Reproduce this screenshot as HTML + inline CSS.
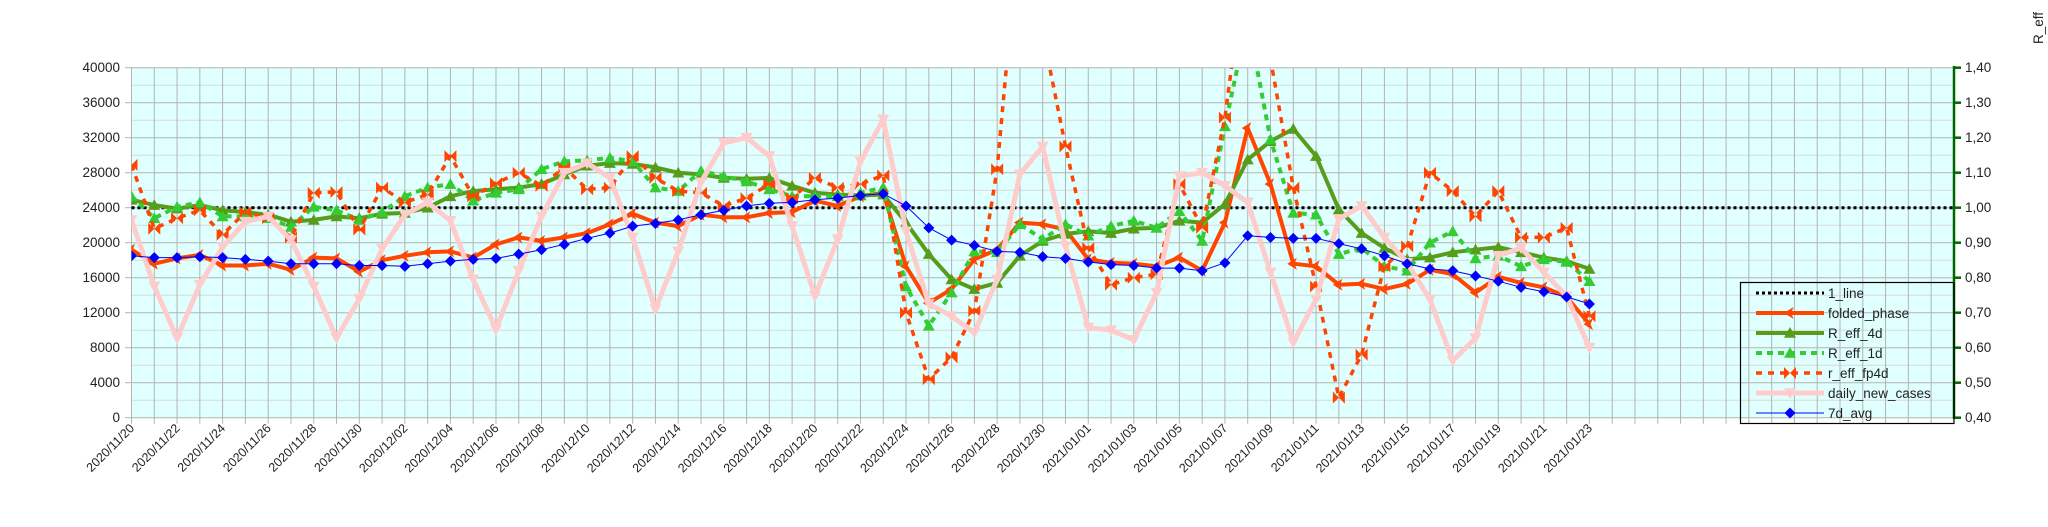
<!DOCTYPE html>
<html><head><meta charset="utf-8"><style>
html,body{margin:0;padding:0;background:#fff;}
svg{display:block;font-family:"Liberation Sans",sans-serif;}
</style></head><body>
<svg id="s" width="2048" height="527" xmlns="http://www.w3.org/2000/svg">
<defs><clipPath id="cp"><rect x="131.5" y="67.7" width="1822.5" height="350"/></clipPath></defs>
<rect x="131.5" y="67.7" width="1822.5" height="350" fill="#e0ffff"/>
<g id="grid"></g>
<g id="series" clip-path="url(#cp)"></g>
<line x1="1954" y1="66" x2="1954" y2="419" stroke="#006600" stroke-width="2.5"/>
<g id="rticks"></g>
<g font-size="13.5" fill="#222" text-anchor="end">
<text x="120" y="72">40000</text><text x="120" y="107">36000</text><text x="120" y="142">32000</text><text x="120" y="177">28000</text><text x="120" y="212">24000</text><text x="120" y="247">20000</text><text x="120" y="282">16000</text><text x="120" y="317">12000</text><text x="120" y="352">8000</text><text x="120" y="387">4000</text><text x="120" y="422">0</text>
</g>
<g font-size="13.5" fill="#222">
<text x="1965" y="72">1,40</text><text x="1965" y="107">1,30</text><text x="1965" y="142">1,20</text><text x="1965" y="177">1,10</text><text x="1965" y="212">1,00</text><text x="1965" y="247">0,90</text><text x="1965" y="282">0,80</text><text x="1965" y="317">0,70</text><text x="1965" y="352">0,60</text><text x="1965" y="387">0,50</text><text x="1965" y="422">0,40</text>
</g>
<text transform="translate(2043,44) rotate(-90)" font-size="13.5" fill="#222">R_eff</text>
<g font-size="12.5" fill="#222" text-anchor="end">
<text transform="translate(135,429) rotate(-45)">2020/11/20</text>
<text transform="translate(180.6,429) rotate(-45)">2020/11/22</text>
<text transform="translate(226.1,429) rotate(-45)">2020/11/24</text>
<text transform="translate(271.7,429) rotate(-45)">2020/11/26</text>
<text transform="translate(317.2,429) rotate(-45)">2020/11/28</text>
<text transform="translate(362.8,429) rotate(-45)">2020/11/30</text>
<text transform="translate(408.4,429) rotate(-45)">2020/12/02</text>
<text transform="translate(453.9,429) rotate(-45)">2020/12/04</text>
<text transform="translate(499.5,429) rotate(-45)">2020/12/06</text>
<text transform="translate(545,429) rotate(-45)">2020/12/08</text>
<text transform="translate(590.6,429) rotate(-45)">2020/12/10</text>
<text transform="translate(636.2,429) rotate(-45)">2020/12/12</text>
<text transform="translate(681.7,429) rotate(-45)">2020/12/14</text>
<text transform="translate(727.3,429) rotate(-45)">2020/12/16</text>
<text transform="translate(772.8,429) rotate(-45)">2020/12/18</text>
<text transform="translate(818.4,429) rotate(-45)">2020/12/20</text>
<text transform="translate(864,429) rotate(-45)">2020/12/22</text>
<text transform="translate(909.5,429) rotate(-45)">2020/12/24</text>
<text transform="translate(955.1,429) rotate(-45)">2020/12/26</text>
<text transform="translate(1000.6,429) rotate(-45)">2020/12/28</text>
<text transform="translate(1046.2,429) rotate(-45)">2020/12/30</text>
<text transform="translate(1091.8,429) rotate(-45)">2021/01/01</text>
<text transform="translate(1137.3,429) rotate(-45)">2021/01/03</text>
<text transform="translate(1182.9,429) rotate(-45)">2021/01/05</text>
<text transform="translate(1228.4,429) rotate(-45)">2021/01/07</text>
<text transform="translate(1274,429) rotate(-45)">2021/01/09</text>
<text transform="translate(1319.6,429) rotate(-45)">2021/01/11</text>
<text transform="translate(1365.1,429) rotate(-45)">2021/01/13</text>
<text transform="translate(1410.7,429) rotate(-45)">2021/01/15</text>
<text transform="translate(1456.2,429) rotate(-45)">2021/01/17</text>
<text transform="translate(1501.8,429) rotate(-45)">2021/01/19</text>
<text transform="translate(1547.4,429) rotate(-45)">2021/01/21</text>
<text transform="translate(1592.9,429) rotate(-45)">2021/01/23</text>
</g>
<rect x="1740.5" y="282.5" width="213.5" height="141" fill="#e0ffff" stroke="#000" stroke-width="1.2" fill-opacity="0"/>
<g id="leg"></g>
<g font-size="13.5" fill="#222">
<text x="1828" y="298">1_line</text>
<text x="1828" y="318">folded_phase</text>
<text x="1828" y="338">R_eff_4d</text>
<text x="1828" y="358">R_eff_1d</text>
<text x="1828" y="378">r_eff_fp4d</text>
<text x="1828" y="398">daily_new_cases</text>
<text x="1828" y="418">7d_avg</text>
</g>
</svg>
<script>
var NS="http://www.w3.org/2000/svg";
function el(p,t,a){var e=document.createElementNS(NS,t);for(var k in a)e.setAttribute(k,a[k]);p.appendChild(e);return e;}
var L=131.5,T=67.7,B=417.7,R=1954,DX=22.78;
var g=document.getElementById('grid');
for(var i=0;i<=20;i++){var y=B-i*17.5;el(g,'line',{x1:L,x2:R,y1:y,y2:y,stroke:i%2?'#d9d9d9':'#b3b3b3','stroke-width':1});}
for(var i=0;i<=10;i++){var y=B-i*35;el(g,'line',{x1:125,x2:L,y1:y,y2:y,stroke:'#b3b3b3','stroke-width':1});}
for(var d=0;d<=80;d++){var x=L+d*DX;if(x>R+1)break;el(g,'line',{x1:x,x2:x,y1:T,y2:B+6,stroke:'#b3b3b3','stroke-width':1});}
var rt=document.getElementById('rticks');
for(var i=0;i<=10;i++){var y=B-i*35;el(rt,'line',{x1:1954,x2:1961,y1:y,y2:y,stroke:'#006600','stroke-width':2.5});}
function X(d){return L+d*DX;} function Y(v){return B-v*350/40;}
var pink=[22.6,15.0,9.1,15.2,19.5,22.4,23.0,20.3,15.0,9.1,13.6,19.3,23.2,24.6,22.5,15.8,10.1,16.8,23.0,28.0,29.1,27.4,20.6,12.4,19.0,26.9,31.4,32.0,29.9,21.9,13.9,20.4,29.3,34.1,21.3,13.0,11.6,9.7,15.8,27.8,31.0,19.6,10.3,10.0,8.9,14.3,27.6,28.0,26.5,24.6,16.6,8.6,13.5,22.7,24.2,20.6,17.7,13.5,6.5,9.1,18.5,19.4,16.6,13.9,8.0];
var fold=[19.2,17.6,18.2,18.6,17.4,17.4,17.6,16.9,18.3,18.2,16.7,18.0,18.5,18.9,19.0,18.3,19.8,20.6,20.2,20.6,21.1,22.1,23.3,22.3,21.9,23.2,22.9,22.9,23.4,23.5,24.8,24.2,25.3,25.7,17.3,13.1,14.7,18.1,19.2,22.3,22.1,21.5,18.1,17.7,17.6,17.3,18.3,16.8,22.3,33.1,26.7,17.6,17.3,15.2,15.3,14.7,15.3,16.9,16.4,14.3,16.1,15.4,14.9,13.8,10.7];
var r4=[24.9,24.3,23.9,24.3,23.7,23.5,23.2,22.4,22.6,23.0,22.8,23.3,23.4,24.0,25.3,25.9,26.1,26.3,26.7,27.8,28.8,29.1,29.0,28.6,28.0,27.8,27.4,27.3,27.4,26.5,25.7,25.5,25.4,25.5,22.3,18.7,15.8,14.7,15.4,18.5,20.2,21.0,21.3,21.1,21.6,21.7,22.5,22.3,24.4,29.5,31.6,33.0,29.9,23.8,21.1,19.4,18.1,18.3,18.9,19.2,19.5,18.9,18.3,17.9,17.0];
var r1=[25.3,22.8,24.1,24.6,23.0,23.0,22.8,21.8,24.1,23.7,22.6,23.5,25.3,26.3,26.7,24.8,25.7,26.1,28.4,29.3,29.4,29.7,29.3,26.3,25.9,28.2,27.6,27.0,26.1,25.3,25.3,25.3,25.7,26.3,15.0,10.5,14.3,19.0,18.9,22.1,20.4,22.1,20.8,21.9,22.5,21.7,23.6,20.2,33.3,45.5,31.8,23.4,23.2,18.7,19.4,17.3,16.8,20.0,21.3,18.2,18.5,17.3,18.1,17.8,15.6];
var fp=[28.9,21.6,22.8,23.7,20.9,23.5,22.8,20.6,25.7,25.8,21.5,26.3,24.6,25.5,29.9,25.3,26.8,28.0,26.5,28.6,26.1,26.3,29.9,27.4,25.9,25.7,24.2,25.1,26.7,25.1,27.4,26.3,26.7,27.7,12.0,4.4,6.9,12.2,28.4,57,44,31.0,19.4,15.2,16.0,16.4,26.7,21.7,34.3,54,41,26.3,15.0,2.3,7.2,17.3,19.6,28.0,25.9,23.0,25.9,20.6,20.6,21.7,11.6];
var avg=[18.5,18.3,18.3,18.4,18.3,18.1,17.9,17.6,17.6,17.6,17.4,17.4,17.3,17.6,17.9,18.1,18.2,18.7,19.2,19.8,20.5,21.1,21.9,22.2,22.6,23.2,23.7,24.2,24.5,24.6,24.9,25.1,25.4,25.6,24.2,21.7,20.3,19.7,19.0,18.9,18.4,18.2,17.8,17.5,17.4,17.1,17.1,16.8,17.7,20.8,20.6,20.5,20.5,19.9,19.3,18.5,17.6,17.0,16.8,16.2,15.6,14.9,14.4,13.8,13.0];
var S=document.getElementById('series');
function pts(a){return a.map(function(v,i){return X(i).toFixed(1)+','+Y(v).toFixed(1);}).join(' ');}
function mk(p,type,x,y,c,s){
 if(type=='tri')el(p,'polygon',{points:[x,y-s,x-s,y+s*0.8,x+s,y+s*0.8].join(','),fill:c});
 else if(type=='dtri')el(p,'polygon',{points:[x,y+s,x-s,y-s*0.8,x+s,y-s*0.8].join(','),fill:c});
 else if(type=='larr')el(p,'polygon',{points:[x-s,y,x+s*0.6,y-s,x+s*0.2,y,x+s*0.6,y+s].join(','),fill:c});
 else if(type=='bow')el(p,'polygon',{points:[x-s,y-s,x,y,x+s,y-s,x+s,y+s,x,y,x-s,y+s].join(','),fill:c});
 else if(type=='dia')el(p,'polygon',{points:[x,y-s,x+s,y,x,y+s,x-s,y].join(','),fill:c});
}
function series(a,c,w,dash,m,s){
 var attrs={points:pts(a),fill:'none',stroke:c,'stroke-width':w,'stroke-linejoin':'round'};
 if(dash)attrs['stroke-dasharray']=dash;
 el(S,'polyline',attrs);
 a.forEach(function(v,i){mk(S,m,X(i),Y(v),c,s);});
}
el(S,'line',{x1:L,x2:R,y1:Y(24),y2:Y(24),stroke:'#000','stroke-width':3,'stroke-dasharray':'3,3'});
series(fold,'#ff4500',4,null,'larr',6);
series(r4,'#579d1c',4,null,'tri',6);
series(r1,'#33cc33',4,'6,5','tri',6);
series(fp,'#ff4500',3.5,'6,6','bow',6);
series(pink,'#ffcccc',5,null,'dtri',6);
series(avg,'#0000ff',1,null,'dia',5.5);
var lg=document.getElementById('leg');
function ll(y,c,w,dash,m,s){var a={x1:1756,x2:1824,y1:y,y2:y,stroke:c,'stroke-width':w};if(dash)a['stroke-dasharray']=dash;el(lg,'line',a);if(m)mk(lg,m,1790,y,c,s);}
ll(293,'#000',3,'3,3');
ll(313,'#ff4500',4,null,'larr',6);
ll(333,'#579d1c',4,null,'tri',6);
ll(353,'#33cc33',4,'6,5','tri',6);
ll(373,'#ff4500',3.5,'6,6','bow',6);
ll(393,'#ffcccc',5,null,'dtri',6);
ll(413,'#0000ff',1,null,'dia',5.5);
</script>
</body></html>
